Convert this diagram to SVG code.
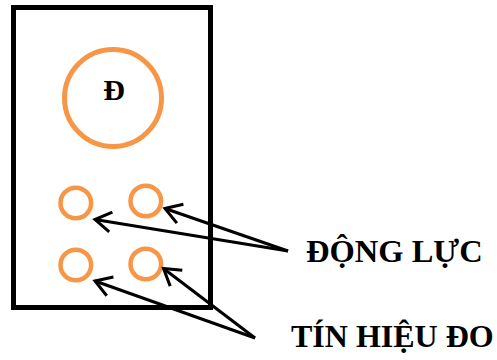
<svg xmlns="http://www.w3.org/2000/svg" width="497" height="360" viewBox="0 0 497 360">
  <defs>
    <style>
      .port { fill: none; stroke: #F79646; stroke-width: 4.5; }
      .lbl { font-family: "Liberation Serif", "Times New Roman", serif; font-weight: bold; fill: #000; }
      .conn { fill: none; stroke: #000; stroke-width: 3; marker-end: url(#arr); }
    </style>
    <marker id="arr" markerUnits="userSpaceOnUse" viewBox="-20 -14 24 28" refX="0" refY="0" markerWidth="24" markerHeight="28" orient="auto">
      <path d="M-16,-10 L0,0 L-16,10" fill="none" stroke="#000" stroke-width="3"/>
    </marker>
  </defs>
  <rect width="497" height="360" fill="#fff"/>
  <g id="box">
    <rect x="13.5" y="7.5" width="197" height="300" fill="none" stroke="#000" stroke-width="5"/>
  </g>
  <g id="motor">
    <circle cx="113" cy="98" r="48.5" fill="none" stroke="#F79646" stroke-width="5"/>
    <text class="lbl" x="114" y="99.5" font-size="30" text-anchor="middle">Đ</text>
  </g>
  <g id="p1"><circle class="port" cx="75.8" cy="203" r="15.3"/></g>
  <g id="p2"><circle class="port" cx="145.8" cy="201" r="15.3"/></g>
  <g id="p3"><circle class="port" cx="75.8" cy="265" r="15.3"/></g>
  <g id="p4"><circle class="port" cx="145.8" cy="264" r="15.3"/></g>
  <g id="connectors">
    <path class="conn" d="M288,251 L165,208.5"/>
    <path class="conn" d="M288,251 L95,219.5"/>
    <path class="conn" d="M255,338 L163.5,268.5"/>
    <path class="conn" d="M255,338 L95,281"/>
  </g>
  <g id="label-dongluc">
    <text class="lbl" x="306" y="262" font-size="32.5">ĐỘNG LỰC</text>
  </g>
  <g id="label-tinhieudo">
    <text class="lbl" x="291" y="347" font-size="32">TÍN HIỆU ĐO</text>
  </g>
</svg>
